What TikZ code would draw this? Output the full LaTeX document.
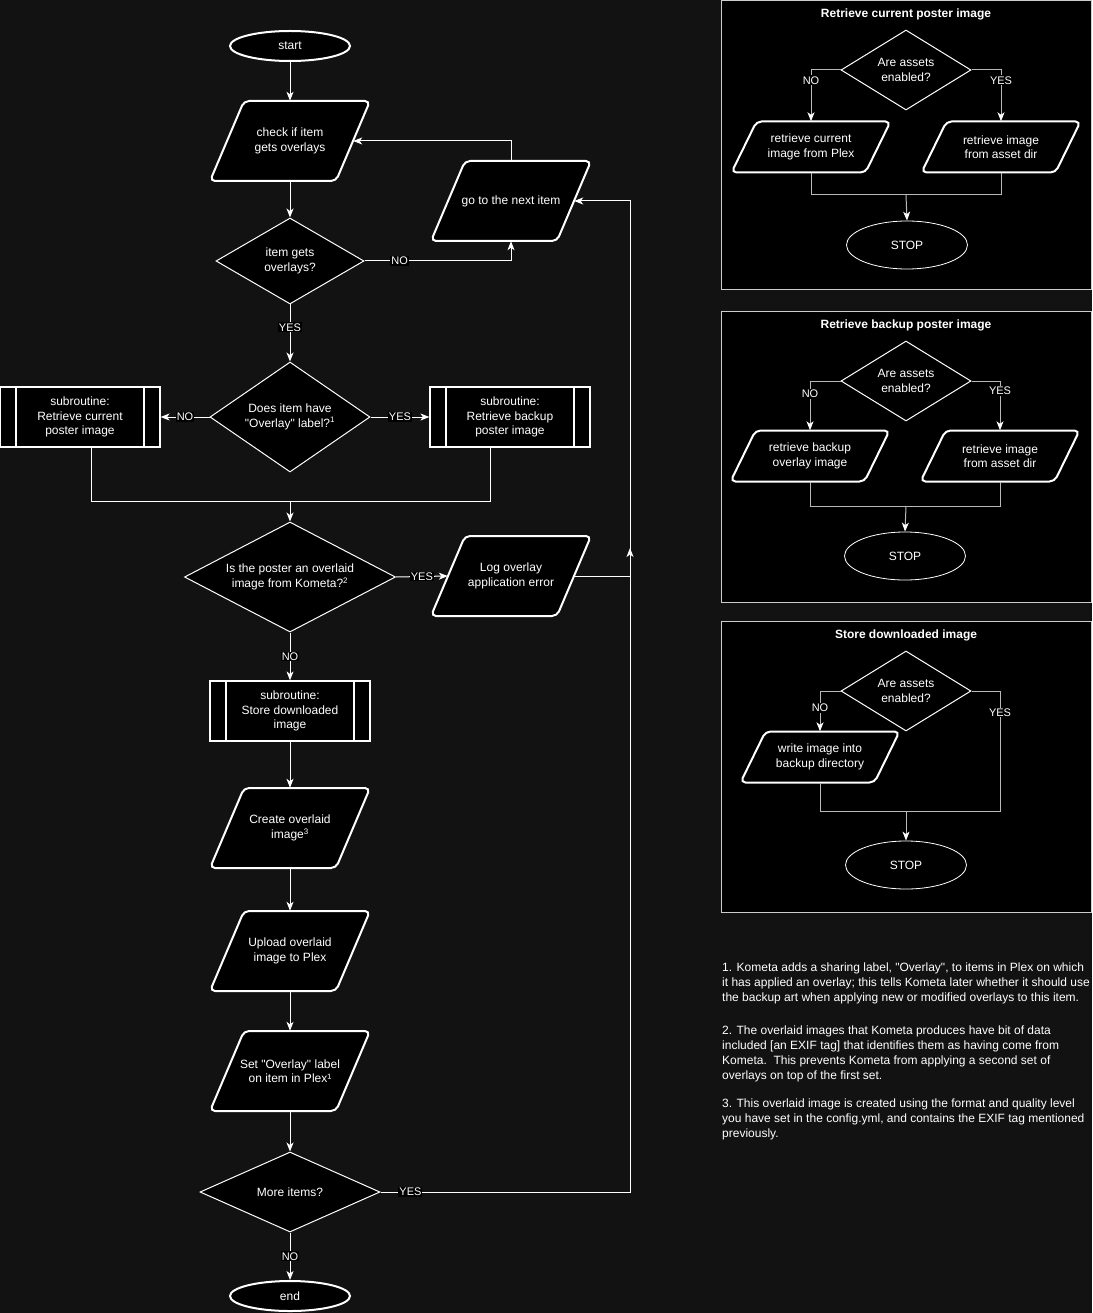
\documentclass[tikz,border=0pt]{standalone}
\usepackage{fontspec}
\setmainfont{Liberation Sans}[Ligatures=TeXOff]
\usetikzlibrary{arrows.meta,shapes.geometric}
\definecolor{bgc}{RGB}{18,18,18}
\definecolor{frm}{RGB}{205,205,205}
\definecolor{pln}{RGB}{185,185,185}
\newcommand{\RX}{630}
\newcommand{\SUB}{16pt}

\begin{document}
\begin{tikzpicture}[x=1pt, y=-1pt,
    font=\fontsize{12}{14.5}\selectfont,
    line/.style={draw=white, line width=1pt},
    flow/.style={line, -{Stealth[length=9pt, width=7pt, inset=2.5pt]}},
    pline/.style={draw=pln, line width=1pt},
    pflow/.style={pline, -{Stealth[length=9pt, width=7pt, inset=2.5pt, color=white]}},
    term/.style={ellipse, draw=white, line width=2pt, fill=black, text=white,
      minimum width=120pt, minimum height=30pt, inner sep=0pt},
    stopn/.style={ellipse, draw=white, line width=0.8pt, fill=black, text=white,
      minimum width=121pt, minimum height=48pt, inner sep=0pt},
    iofr/.style={draw=white, fill=black, line width=2pt, rounded corners=5pt},
    iotx/.style={rectangle, inner sep=0pt, text=white, align=center},
    dec/.style={diamond, draw=white, line width=1pt, fill=black, text=white,
      inner sep=0pt, align=center},
    pdec/.style={dec, minimum width=130pt, minimum height=80pt, shape aspect=1.6},
    subr/.style={rectangle, draw=white, line width=1.2pt, fill=black, text=white,
      minimum width=160pt, minimum height=60pt, inner sep=0pt, align=center,
      path picture={
        \draw[white, line width=1.2pt]
          ([xshift=\SUB]path picture bounding box.north west) -- ([xshift=\SUB]path picture bounding box.south west)
          ([xshift=-\SUB]path picture bounding box.north east) -- ([xshift=-\SUB]path picture bounding box.south east);}},
    lbl/.style={fill=black, text=white, inner sep=1pt, font=\fontsize{11}{13}\selectfont},
    ttl/.style={text=white, font=\fontsize{12}{14}\selectfont\bfseries},
    note/.style={text=white, inner sep=0pt, anchor=north west, align=left,
      font=\fontsize{12}{14.7}\selectfont},
  ]

  % slanted data box: #1 name, #2 x, #3 y, #4 half width at mid height,
  % #5 half height, #6 half slant, #7 text
  \newcommand{\iobox}[7]{%
    \draw[iofr] ({#2-#4+#6},{#3-#5}) -- ({#2+#4+#6},{#3-#5})
      -- ({#2+#4-#6},{#3+#5}) -- ({#2-#4-#6},{#3+#5}) -- cycle;
    \node[iotx, minimum width={2*#4}, minimum height={2*#5}] (#1) at (#2,#3) {#7};}
  \newcommand{\mainio}[4]{\iobox{#1}{#2}{#3}{63}{40}{17}{#4}}
  \newcommand{\panelio}[4]{\iobox{#1}{#2}{#3}{67}{25.5}{12.5}{#4}}

  \fill[bgc] (0,0) rectangle (1092,1313);
  \useasboundingbox (0,0) rectangle (1092,1313);

  %% ================= main flow =================
  \node[term] (start) at (290,46) {start};
  \mainio{check}{290}{141}{check if item\\gets overlays}
  \node[dec, minimum width=148pt, minimum height=86pt, shape aspect=1.72] (q1) at (290,261) {item gets\\overlays?};
  \mainio{gonext}{511}{201}{go to the next item}

  \node[dec, minimum width=160pt, minimum height=110pt, shape aspect=1.45] (q2) at (290,417)
       {Does item have\\"Overlay" label?\textsuperscript{1}};
  \node[subr] (subL) at (80,417) {subroutine:\\Retrieve current\\poster image};
  \node[subr] (subR) at (510,417) {subroutine:\\Retrieve backup\\poster image};
  \coordinate (merge) at (290,501);

  \node[dec, minimum width=211pt, minimum height=110pt, shape aspect=1.92] (q3) at (290,577)
       {Is the poster an overlaid\\image from Kometa?\textsuperscript{2}};
  \mainio{logerr}{511}{576}{Log overlay\\application error}

  \node[subr] (store) at (290,711) {subroutine:\\Store downloaded\\image};
  \mainio{create}{290}{828}{Create overlaid\\image\textsuperscript{3}}
  \mainio{upload}{290}{951}{Upload overlaid\\image to Plex}
  \mainio{setlbl}{290}{1071}{Set "Overlay" label\\on item in Plex¹}
  \node[dec, minimum width=180pt, minimum height=80pt, shape aspect=2.25] (more) at (290,1192) {More items?};
  \node[term] (end) at (290,1296) {end};

  \coordinate (retB) at (\RX,1192);
  \coordinate (retT) at (\RX,201);
  \coordinate (retA) at (\RX,548);

  \draw[flow] (start) -- (check);
  \draw[flow] (check) -- (q1);
  \draw[flow] (q1.east) -| node[lbl, pos=0.12] {NO} (gonext.south);
  \draw[flow] (gonext.north) |- (check.east);
  \draw[flow] (q1.south) -- node[lbl, pos=0.4] {YES} (q2.north);
  \draw[flow] (q2.west) -- node[lbl] {NO} (subL.east);
  \draw[flow] (q2.east) -- node[lbl] {YES} (subR.west);
  \draw[line] ([xshift=11pt]subL.south) |- (merge);
  \draw[line] ([xshift=-20pt]subR.south) |- (merge);
  \draw[flow] (merge) -- (q3.north);
  \draw[flow] (q3.east) -- node[lbl] {YES} (logerr.west);
  \draw[flow] (logerr.east) -| (retA);
  \draw[flow] (q3.south) -- node[lbl] {NO} (store.north);
  \draw[flow] (store) -- (create);
  \draw[flow] (create) -- (upload);
  \draw[flow] (upload) -- (setlbl);
  \draw[flow] (setlbl) -- (more);
  \draw[flow] (more.east) -- node[lbl, pos=0.12] {YES} (retB) -- (retT) -- (gonext.east);
  \draw[flow] (more.south) -- node[lbl] {NO} (end.north);

  %% ================= panel 1: retrieve current poster image =================
  \draw[draw=frm, fill=black, line width=1pt] (721,1) rectangle (1091,290);
  \node[ttl] (t1) at (906,14) {Retrieve current poster image};
  \node[pdec] (a1) at (906,70) {Are assets\\enabled?};
  \panelio{n1}{811}{147}{retrieve current\\image from Plex}
  \panelio{y1}{1001}{147}{retrieve image\\from asset dir}
  \node[stopn] (s1) at (907,245) {STOP};
  \coordinate (j1) at (906,195);
  \draw[pflow] (a1.west) -| node[lbl, pos=0.6] {NO} (n1.north);
  \draw[pflow] (a1.east) -| node[lbl, pos=0.6] {YES} (y1.north);
  \draw[pline] (n1.south) |- (j1);
  \draw[pline] (y1.south) |- (j1);
  \draw[pflow] (j1) -- (s1.north);

  %% ================= panel 2: retrieve backup poster image =================
  \draw[draw=frm, fill=black, line width=1pt] (721,311) rectangle (1091,602);
  \node[ttl] (t2) at (906,325) {Retrieve backup poster image};
  \node[pdec] (a2) at (906,381) {Are assets\\enabled?};
  \panelio{n2}{810}{456}{retrieve backup\\overlay image}
  \panelio{y2}{1000}{456}{retrieve image\\from asset dir}
  \node[stopn] (s2) at (905,556) {STOP};
  \coordinate (j2) at (906,506);
  \draw[pflow] (a2.west) -| node[lbl, pos=0.63] {NO} (n2.north);
  \draw[pflow] (a2.east) -| node[lbl, pos=0.6] {YES} (y2.north);
  \draw[pline] (n2.south) |- (j2);
  \draw[pline] (y2.south) |- (j2);
  \draw[pflow] (j2) -- (s2.north);

  %% ================= panel 3: store downloaded image =================
  \draw[draw=frm, fill=black, line width=1pt] (721,621) rectangle (1091,912);
  \node[ttl] (t3) at (906,635) {Store downloaded image};
  \node[pdec] (a3) at (906,691) {Are assets\\enabled?};
  \panelio{w3}{820}{757}{write image into\\backup directory}
  \node[stopn] (s3) at (906,865) {STOP};
  \coordinate (c3) at (1000,811);
  \coordinate (j3) at (906,811);
  \draw[pflow] (a3.west) -| node[lbl, pos=0.71] {NO} (w3.north);
  \draw[pline] (a3.east) -| node[lbl, pos=0.59] {YES} (c3) -- (j3);
  \draw[pline] (w3.south) |- (j3);
  \draw[pflow] (j3) -- (s3.north);

  %% ================= footnotes =================
  \node[note] (fn1) at (722,963) {1. Kometa adds a sharing label, "Overlay", to items in Plex on which\\
    it has applied an overlay; this tells Kometa later whether it should use\\
    the backup art when applying new or modified overlays to this item.};
  \node[note] (fn2) at (722,1026) {2. The overlaid images that Kometa produces have bit of data\\
    included [an EXIF tag] that identifies them as having come from\\
    Kometa.\ \ This prevents Kometa from applying a second set of\\
    overlays on top of the first set.};
  \node[note] (fn3) at (722,1099) {3. This overlaid image is created using the format and quality level\\
    you have set in the config.yml, and contains the EXIF tag mentioned\\
    previously.};

\end{tikzpicture}
\end{document}
